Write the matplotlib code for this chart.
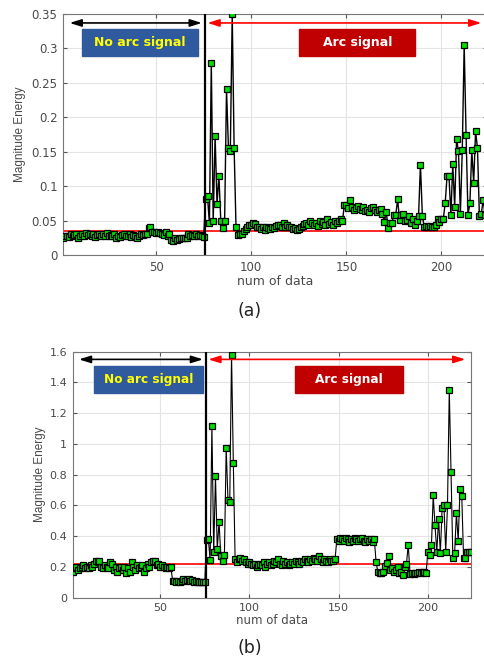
import numpy as np
import matplotlib
matplotlib.use("Agg")
import matplotlib.pyplot as plt
from matplotlib.patches import Rectangle

plt.rcParams['font.family'] = ['DejaVu Sans']

# ---------------- data: panel (a) ----------------
a_noarc = [0.024, 0.027, 0.028, 0.026, 0.030, 0.027, 0.029, 0.031, 0.025, 0.028,
           0.030, 0.027, 0.032, 0.029, 0.031, 0.028, 0.030, 0.026, 0.029, 0.031,
           0.028, 0.030, 0.027, 0.032, 0.028, 0.029, 0.027, 0.030, 0.025, 0.028,
           0.026, 0.029, 0.031, 0.027, 0.028, 0.030, 0.026, 0.029, 0.027, 0.025,
           0.028, 0.030, 0.029, 0.031, 0.030, 0.039, 0.040, 0.034, 0.033, 0.032,
           0.033, 0.032, 0.031, 0.029, 0.033, 0.028, 0.030, 0.022, 0.021, 0.024,
           0.022, 0.023, 0.025, 0.024, 0.025, 0.024, 0.030, 0.027, 0.029, 0.028,
           0.031, 0.027, 0.029, 0.027, 0.026]
a_burst = [0.082, 0.085, 0.046, 0.279, 0.049, 0.173, 0.074, 0.115, 0.049, 0.039,
           0.049, 0.241, 0.156, 0.151, 0.350, 0.156, 0.040, 0.029, 0.031, 0.030]
a_flat = [0.035, 0.038, 0.041, 0.043, 0.044, 0.046, 0.045, 0.041, 0.040, 0.038,
          0.040, 0.037, 0.040, 0.039, 0.038,
          0.040, 0.039, 0.042, 0.044, 0.043, 0.040, 0.046, 0.041, 0.043, 0.040,
          0.041, 0.038, 0.039, 0.037, 0.038,
          0.040, 0.042, 0.045, 0.047, 0.044, 0.049, 0.046, 0.043, 0.047, 0.042,
          0.050, 0.045, 0.048, 0.044, 0.052,
          0.045, 0.048, 0.043, 0.050, 0.047, 0.049, 0.052, 0.050]
a_mid = [0.073, 0.072, 0.068, 0.080, 0.070, 0.066, 0.068, 0.071, 0.067, 0.065,
         0.069, 0.064, 0.066, 0.062, 0.068, 0.070, 0.066, 0.063, 0.065, 0.067,
         0.060, 0.048, 0.063]
a_end = [0.039, 0.047, 0.047, 0.058, 0.058, 0.081, 0.051, 0.058, 0.060, 0.050,
         0.051, 0.056, 0.046, 0.053, 0.044, 0.050, 0.057, 0.131, 0.057, 0.040,
         0.042, 0.041, 0.042, 0.041, 0.040, 0.043, 0.052, 0.048, 0.053, 0.052,
         0.075, 0.115, 0.115, 0.058, 0.132, 0.070, 0.168, 0.151, 0.060, 0.153,
         0.305, 0.174, 0.058, 0.075, 0.152, 0.105, 0.180, 0.155, 0.056, 0.060,
         0.080, 0.058, 0.062]
a_threshold = 0.035

# ---------------- data: panel (b) ----------------
b_noarc = [0.17, 0.19, 0.20, 0.18, 0.19, 0.20, 0.21, 0.19, 0.20, 0.19,
           0.21, 0.20, 0.22, 0.24, 0.23, 0.24, 0.20, 0.19, 0.21, 0.20,
           0.19, 0.23, 0.22, 0.18, 0.20, 0.17, 0.19, 0.20, 0.18, 0.20,
           0.16, 0.19, 0.17, 0.23, 0.20, 0.18, 0.21, 0.19, 0.20, 0.21,
           0.17, 0.19, 0.22, 0.20, 0.23, 0.24, 0.24, 0.21, 0.22, 0.20,
           0.21, 0.20, 0.19, 0.20, 0.19, 0.20, 0.11, 0.11, 0.105, 0.11,
           0.105, 0.11, 0.12, 0.11, 0.115, 0.12, 0.11, 0.115, 0.105, 0.11,
           0.10, 0.105, 0.10, 0.10, 0.10]
b_burst = [0.375, 0.38, 0.245, 1.12, 0.30, 0.79, 0.315, 0.495, 0.27, 0.24,
           0.275, 0.975, 0.635, 0.625, 1.58, 0.875, 0.25, 0.23, 0.25, 0.26]
b_flat = [0.24, 0.25, 0.23, 0.22, 0.23, 0.22, 0.21, 0.22, 0.20, 0.21,
          0.22, 0.21, 0.23, 0.20, 0.22, 0.23, 0.21, 0.22, 0.24, 0.23,
          0.25, 0.22, 0.21, 0.24, 0.22, 0.23, 0.21, 0.22, 0.23, 0.22,
          0.24, 0.23, 0.22, 0.24, 0.23, 0.25, 0.24, 0.23, 0.25, 0.24,
          0.26, 0.25, 0.24, 0.27, 0.25, 0.23, 0.25, 0.24, 0.23, 0.25,
          0.24, 0.24, 0.25]
b_mid = [0.38, 0.37, 0.39, 0.38, 0.37, 0.39, 0.38, 0.36, 0.38, 0.37,
         0.39, 0.38, 0.37, 0.38, 0.39, 0.37, 0.36, 0.38, 0.37, 0.38,
         0.36, 0.38]
b_end = [0.23, 0.165, 0.163, 0.16, 0.165, 0.205, 0.225, 0.27, 0.18, 0.19,
         0.17, 0.18, 0.20, 0.16, 0.17, 0.15, 0.20, 0.22, 0.345, 0.155,
         0.16, 0.155, 0.16, 0.16, 0.165, 0.16, 0.17, 0.17, 0.16, 0.30,
         0.28, 0.34, 0.665, 0.47, 0.30, 0.51, 0.29, 0.585, 0.60, 0.30,
         0.60, 1.35, 0.82, 0.26, 0.29, 0.55, 0.37, 0.705, 0.66, 0.26,
         0.26, 0.30, 0.30, 0.30]
b_threshold = 0.22

arc_onset = 75.5
x_ticks = [50, 100, 150, 200]
a_yticks = [0, 0.05, 0.1, 0.15, 0.2, 0.25, 0.3, 0.35]
a_yticklabels = ['0', '0.05', '0.1', '0.15', '0.2', '0.25', '0.3', '0.35']
b_yticks = [0, 0.2, 0.4, 0.6, 0.8, 1.0, 1.2, 1.4, 1.6]
b_yticklabels = ['0', '0.2', '0.4', '0.6', '0.8', '1', '1.2', '1.4', '1.6']
no_arc_text = "No arc signal"
arc_text = "Arc signal"
x_label = "num of data"
y_label = "Magnitude Energy"

energy_a = np.array(a_noarc + a_burst + a_flat + a_mid + a_end)
energy_b = np.array(b_noarc + b_burst + b_flat + b_mid + b_end)

fig = plt.figure(figsize=(4.84, 6.58), dpi=100)
ax_a = fig.add_axes([63/484, (658-255)/658, (487-63)/484, 241/658])
ax_b = fig.add_axes([72.7/484, 60.3/658, 398/484, 246/658])

txt_col = '#4a4a4a'


def draw(ax, energy, thr, ymax, yticks, yticklabels, lw, arrow_y, box_y,
         blue_x, ylab_x, xlab_y, tick_fs, xlab_fs, box_fs):
    x = np.arange(1, len(energy) + 1)
    ax.plot(x, energy, '-', color='black', lw=lw, zorder=3,
            marker='s', ms=4.0, mfc='#00e000', mec='black', mew=0.9)
    ax.axhline(thr, color='#ff0000', lw=1.2, zorder=2)
    ax.axvline(arc_onset, color='black', lw=1.6, zorder=4)
    ax.set_xlim(1, 224)
    ax.set_ylim(0, ymax)
    ax.set_xticks(x_ticks)
    ax.set_yticks(yticks)
    ax.set_yticklabels(yticklabels)
    ax.tick_params(direction='in', length=3, colors='#555555', labelcolor=txt_col,
                   labelsize=tick_fs, top=True, right=True, pad=4)
    ax.grid(True, color='#e4e4e4', lw=0.8)
    ax.set_axisbelow(True)
    for s in ax.spines.values():
        s.set_color('#777777')
        s.set_linewidth(0.8)
    ax.set_ylabel(y_label, fontsize=8.5, color=txt_col, family='Liberation Sans')
    ax.set_xlabel(x_label, fontsize=xlab_fs, color=txt_col)
    ax.yaxis.set_label_coords(ylab_x, 0.5)
    ax.xaxis.set_label_coords(0.5, xlab_y)
    # arrows
    ax.annotate('', xy=(4.5, arrow_y), xytext=(74, arrow_y),
                arrowprops=dict(arrowstyle='<|-|>,head_length=0.7,head_width=0.22',
                                color='black', lw=1.2, shrinkA=0, shrinkB=0), zorder=5)
    ax.annotate('', xy=(77, arrow_y), xytext=(221, arrow_y),
                arrowprops=dict(arrowstyle='<|-|>,head_length=0.7,head_width=0.22',
                                color='#ff0000', lw=1.2, shrinkA=0, shrinkB=0), zorder=5)
    # boxes
    y0, y1 = box_y
    bx0, bx1 = blue_x
    ax.add_patch(Rectangle((bx0, y0), bx1 - bx0, y1 - y0, facecolor='#2f5a9e',
                           edgecolor='#2f5a9e', zorder=5))
    ax.text((bx0 + bx1) / 2, (y0 + y1) / 2, no_arc_text, color='#ffff00',
            fontsize=box_fs, fontweight='bold', ha='center', va='center', zorder=6)
    rx0, rx1 = 125.3, 186.3
    ax.add_patch(Rectangle((rx0, y0), rx1 - rx0, y1 - y0, facecolor='#c00000',
                           edgecolor='#c00000', zorder=5))
    ax.text((rx0 + rx1) / 2, (y0 + y1) / 2, arc_text, color='white',
            fontsize=box_fs, fontweight='bold', ha='center', va='center', zorder=6)


draw(ax_a, energy_a, a_threshold, 0.35, a_yticks, a_yticklabels, 1.0,
     0.337, (0.289, 0.328), (11.0, 71.8), -0.088, -0.085, 8.5, 9.0, 9.0)
draw(ax_b, energy_b, b_threshold, 1.6, b_yticks, b_yticklabels, 0.8,
     1.55, (1.33, 1.507), (13.2, 73.9), -0.068, -0.065, 8.0, 8.5, 8.7)

fig.text(250/484, 1 - 311/658, '(a)', fontsize=12.5, ha='center', va='center', color='#222222')
fig.text(250/484, 1 - 648/658, '(b)', fontsize=12.5, ha='center', va='center', color='#222222')

fig.savefig('out.png', dpi=100)
